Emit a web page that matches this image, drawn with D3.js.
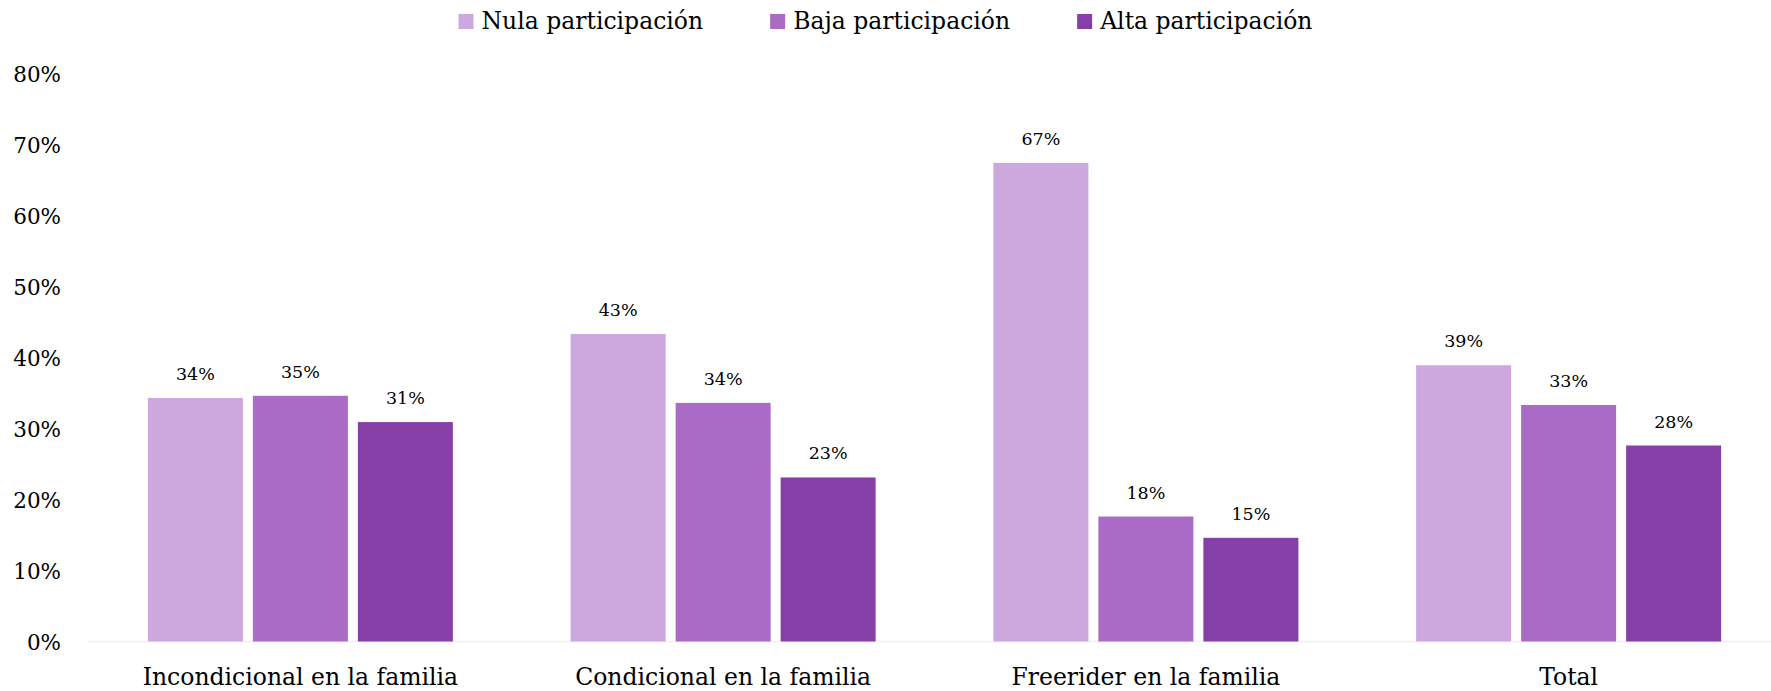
<!DOCTYPE html>
<html>
<head>
<meta charset="utf-8">
<script src="https://cdnjs.cloudflare.com/ajax/libs/d3/7.8.5/d3.min.js"></script>
<style>
  body { margin: 0; background: #fff; }
  text { font-family: "DejaVu Serif", "Liberation Serif", serif; fill: #000; }
</style>
</head>
<body>
<div id="js-chart"></div>
<script>
//  Chart data
var categories = ["Incondicional en la familia", "Condicional en la familia", "Freerider en la familia", "Total"];
var seriesNames = ["Nula participación", "Baja participación", "Alta participación"];
var nulaValues = [34.3, 43.3, 67.4, 38.9];
var bajaValues = [34.6, 33.6, 17.6, 33.3];
var altaValues = [30.9, 23.1, 14.6, 27.6];
var yTicks = [0, 10, 20, 30, 40, 50, 60, 70, 80];
var colors = ["#cda8df", "#a96bc6", "#863fa6"];

//  Elementary SVG variables
var svg;
var width = 1771;
var height = 691;

// ---------------------------------------------------------------------------------- //

function Setup()
{
    svg = d3.select("#js-chart")
      .append("svg")
      .attr("width", width)
      .attr("height", height);

    var seriesValues = [nulaValues, bajaValues, altaValues];

    //  Scales
    var x0 = d3.scaleBand()
      .domain(categories)
      .range([89, 1780])
      .paddingInner(0)
      .paddingOuter(0);

    var groupWidth = 305;
    var x1 = d3.scaleBand()
      .domain(seriesNames)
      .range([0, groupWidth])
      .paddingInner(10 / 105);

    var y = d3.scaleLinear()
      .domain([0, 80])
      .range([641.5, 73.4]);

    //  Y axis labels (no line, no ticks)
    var yAxis = d3.axisLeft(y)
      .tickValues(yTicks)
      .tickSize(0)
      .tickPadding(0)
      .tickFormat(function(d) { return d + "%"; });

    var gy = svg.append("g")
      .attr("transform", "translate(61,0)")
      .call(yAxis);
    gy.select(".domain").remove();
    gy.selectAll("text")
      .style("font-family", "DejaVu Serif")
      .style("font-size", "21.5px")
      .attr("dy", "0.36em");

    //  Base line
    svg.append("line")
      .attr("x1", 88)
      .attr("x2", width)
      .attr("y1", y(0))
      .attr("y2", y(0))
      .style("stroke", "#f0f0f0")
      .style("stroke-width", "1.5");

    //  Bars
    var offset = (x0.bandwidth() - groupWidth) / 2;
    seriesNames.forEach(function(name, si)
    {
      var values = seriesValues[si];

      svg.append("g")
        .selectAll("rect")
        .data(values)
        .enter()
        .append("rect")
        .attr("x", function(d, i) { return x0(categories[i]) + offset + x1(name); })
        .attr("y", function(d) { return y(d); })
        .attr("width", x1.bandwidth())
        .attr("height", function(d) { return y(0) - y(d); })
        .style("fill", colors[si]);

      svg.append("g")
        .selectAll("text")
        .data(values)
        .enter()
        .append("text")
        .attr("x", function(d, i) { return x0(categories[i]) + offset + x1(name) + x1.bandwidth() / 2; })
        .attr("y", function(d) { return y(d) - 18; })
        .attr("text-anchor", "middle")
        .style("font-size", "17.5px")
        .text(function(d) { return Math.round(d) + "%"; });
    });

    //  X axis labels
    var xAxis = d3.axisBottom(x0)
      .tickSize(0)
      .tickPadding(0);

    var gx = svg.append("g")
      .attr("transform", "translate(0,685)")
      .call(xAxis);
    gx.select(".domain").remove();
    gx.selectAll("text")
      .style("font-family", "DejaVu Serif")
      .style("font-size", "23.5px")
      .attr("y", 0)
      .attr("dy", 0);

    //  Legend
    Legend();
}
// ---------------------------------------------------------------------------------- //

function Legend()
{
    var boxSize = 15;
    var boxGap = 8;
    var itemGap = 67;

    var legend = svg.append("g");
    var cursor = 0;

    seriesNames.forEach(function(name, i)
    {
      var item = legend.append("g");
      item.append("rect")
        .attr("x", 0)
        .attr("y", 14)
        .attr("width", boxSize)
        .attr("height", boxSize)
        .style("fill", colors[i]);

      var label = item.append("text")
        .attr("x", boxSize + boxGap)
        .attr("y", 29.3)
        .style("font-size", "23.5px")
        .text(name);

      var w = boxSize + boxGap + label.node().getComputedTextLength();
      item.attr("transform", "translate(" + cursor + ",0)");
      cursor += w + itemGap;
    });

    var total = cursor - itemGap;
    legend.attr("transform", "translate(" + (width / 2 - total / 2) + ",0)");
}
// ---------------------------------------------------------------------------------- //

Setup();
</script>
</body>
</html>
